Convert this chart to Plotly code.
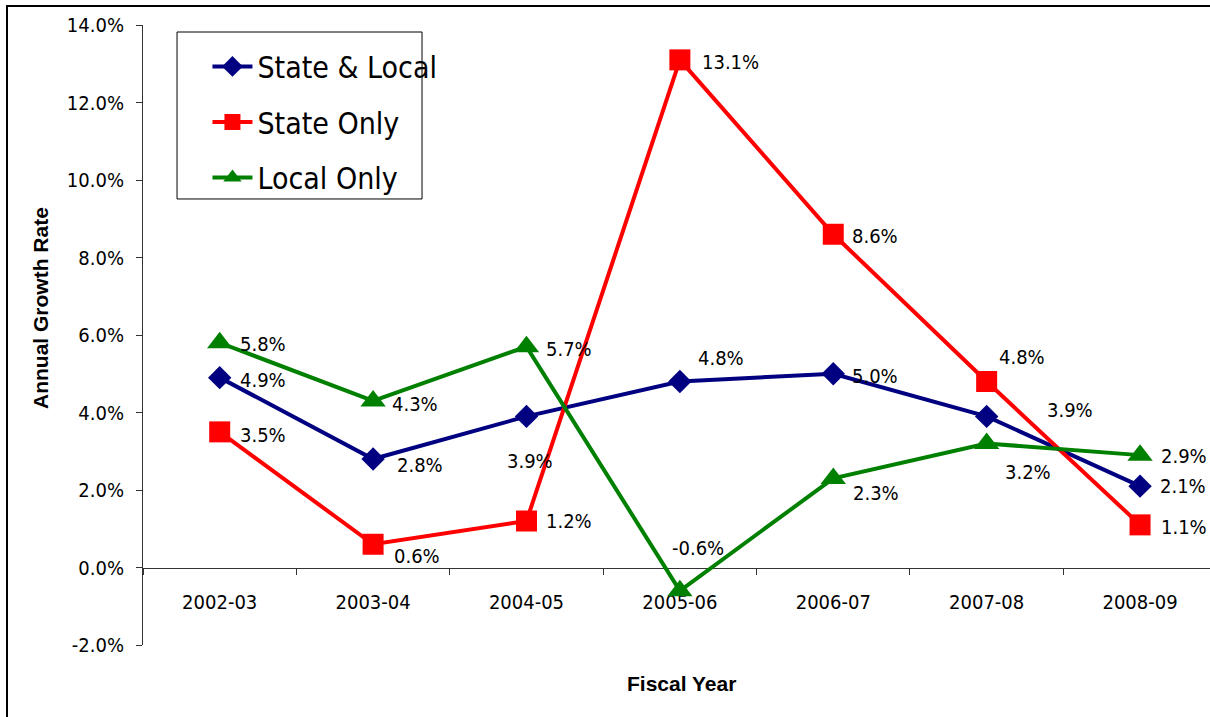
import plotly.graph_objects as go

# Fiscal years on the category axis
years = ["2002-03", "2003-04", "2004-05", "2005-06", "2006-07", "2007-08", "2008-09"]

# Annual growth rates (percent)
state_local = [4.9, 2.8, 3.9, 4.8, 5.0, 3.9, 2.1]
state_only = [3.5, 0.6, 1.2, 13.1, 8.6, 4.8, 1.1]
local_only = [5.8, 4.3, 5.7, -0.6, 2.3, 3.2, 2.9]

y_ticks = [-2, 0, 2, 4, 6, 8, 10, 12, 14]
y_tick_labels = ["-2.0%", "0.0%", "2.0%", "4.0%", "6.0%", "8.0%", "10.0%", "12.0%", "14.0%"]

# Pixel offsets (dx right, dy down) of each value label from its marker
label_offsets = {
    "State & Local": [(18, 2), (22, 6), (-21, 45), (16, -24), (17, 2), (58, -6), (18, 0)],
    "State Only": [(18, 3), (19, 12), (18, 0), (20, 2), (17, 2), (10, -25), (19, 2)],
    "Local Only": [(18, 1), (17, 3), (18, 2), (-10, -43), (18, 15), (16, 28), (19, 1)],
}

series = [
    ("State & Local", state_local, "#000080", "diamond", 18),
    ("State Only", state_only, "#FF0000", "square", 21),
    ("Local Only", local_only, "#008000", "triangle-up", 22),
]

BODY_FONT = "DejaVu Sans Condensed, Liberation Sans, sans-serif"
TITLE_FONT = "Liberation Sans, Arial, sans-serif"

fig = go.Figure()
annotations = []
for name, values, color, symbol, msize in series:
    fig.add_trace(go.Scatter(
        x=years, y=values, name=name, mode="lines+markers",
        legendgroup=name,
        line=dict(color=color, width=4),
        marker=dict(symbol=symbol, size=msize, color=color, line=dict(width=0)),
        hoverinfo="skip",
    ))
    for yr, v, (dx, dy) in zip(years, values, label_offsets[name]):
        annotations.append(dict(
            x=yr, y=v, xref="x", yref="y", text=f"{v:.1f}%", showarrow=False,
            xanchor="left", yanchor="middle", xshift=dx, yshift=-dy,
            font=dict(family=BODY_FONT, size=20, color="#000"),
        ))

# Axis titles (plot area spans 143..1210 px horizontally, 25..645 px vertically)
annotations.append(dict(
    x=(681 - 143) / 1067, y=(645 - 683) / 620, xref="paper", yref="paper",
    text="<b>Fiscal Year</b>", showarrow=False, xanchor="center", yanchor="middle",
    font=dict(family=TITLE_FONT, size=21, color="#000"),
))
annotations.append(dict(
    x=(40 - 143) / 1067, y=(645 - 308) / 620, xref="paper", yref="paper",
    text="<b>Annual Growth Rate</b>", showarrow=False, textangle=-90,
    xanchor="center", yanchor="middle",
    font=dict(family=TITLE_FONT, size=21, color="#000"),
))

fig.update_layout(
    width=1210, height=717,
    margin=dict(l=143, r=0, t=25, b=72),
    paper_bgcolor="white", plot_bgcolor="white",
    font=dict(family=BODY_FONT, size=20, color="#000"),
    annotations=annotations,
    showlegend=True,
    legend=dict(
        x=0.0319 + 0.0285, y=0.9887 - 0.0135, xanchor="left", yanchor="top",
        bgcolor="rgba(0,0,0,0)", borderwidth=0,
        font=dict(family=BODY_FONT, size=30, color="#000"),
        tracegroupgap=13.5, itemwidth=40,
    ),
    shapes=[
        # outer chart frame
        dict(type="rect", xref="paper", yref="paper",
             x0=(7 - 143) / 1067, x1=1.2, y0=-0.3, y1=(645 - 6) / 620,
             line=dict(color="#000", width=2), fillcolor="rgba(0,0,0,0)", layer="below"),
        # legend frame
        dict(type="rect", xref="paper", yref="paper",
             x0=0.0319, x1=0.2615, y0=0.7194, y1=0.9887,
             line=dict(color="#000", width=1), fillcolor="white", layer="below"),
    ],
)

fig.update_xaxes(
    type="category", categoryorder="array", categoryarray=years,
    range=[-0.5, 6.456],
    anchor="free", position=0.125,
    showline=True, linecolor="#333", linewidth=1,
    ticks="outside", tickson="boundaries", ticklen=6, tickcolor="#333",
    ticklabelstandoff=16, layer="below traces",
    showgrid=False, zeroline=False,
    tickfont=dict(family=BODY_FONT, size=20, color="#000"),
)
fig.update_yaxes(
    range=[-2, 14], tickmode="array", tickvals=y_ticks, ticktext=y_tick_labels,
    showline=True, linecolor="#333", linewidth=1,
    ticks="outside", ticklen=6, tickcolor="#333", ticklabelstandoff=8,
    showgrid=False, zeroline=False,
    tickfont=dict(family=BODY_FONT, size=20, color="#000"),
)

fig.write_html("out.html")
